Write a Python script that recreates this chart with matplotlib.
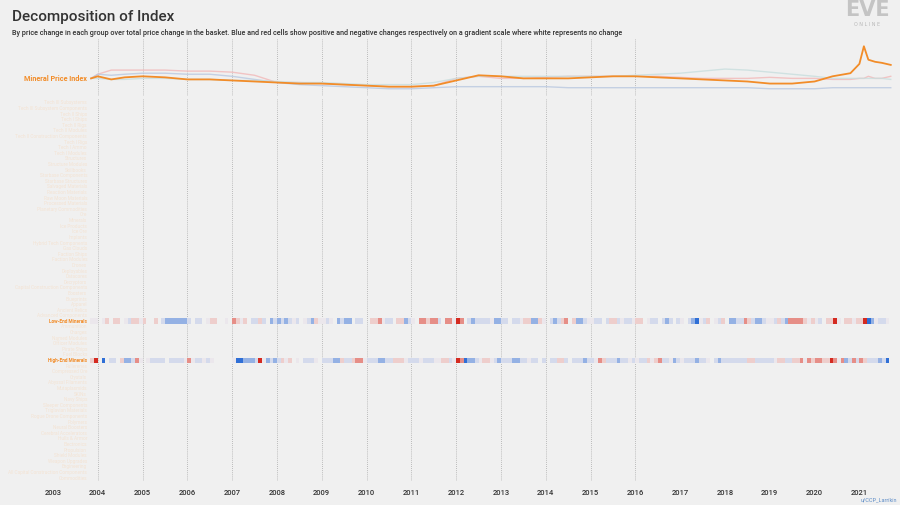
import numpy as np
import matplotlib.pyplot as plt
from matplotlib.colors import LinearSegmentedColormap, Normalize

# ---- data ----
group_labels = [
    "Tech III Subsystems", "Tech III Subsystem Components", "Tech II Ships", "Tech I Ships",
    "Tech II Rigs", "Tech II Modules", "Tech II Construction Components", "Tech I Rigs",
    "Tech I Ammo", "Tech I Modules", "Structures", "Structure Modules", "Skillbooks",
    "Starbase Components", "Starbase Structures", "Salvaged Materials", "Reaction Materials",
    "Raw Moon Materials", "Processed Materials", "Planetary Commodities", "Ore",
    "Minerals", "Ice Products", "Ice Ore", "Implants", "Hybrid Tech Components",
    "Gas Clouds", "Faction Ships", "Faction Modules", "Drones", "Deployables",
    "Datacores", "Decryptors", "Capital Construction Components", "Boosters",
    "Blueprints", "Apparel", "Ancient Relics", "Advanced Components", "Low-End Minerals",
    "Ammunition", "Charges", "Named Modules", "Officer Modules", "Pirate Ships",
    "Fuel Blocks", "High-End Minerals", "Fullerenes", "Compressed Ore", "Crystals",
    "Abyssal Filaments", "Mutaplasmids", "SKINs", "Navy Ships", "Sleeper Components",
    "Triglavian Materials", "Rogue Drone Components", "Polymers", "Neural Boosters",
    "Cerebral Accelerators", "Hulls & Armor", "Electronics", "Propulsion",
    "Shield Modules", "Weapon Upgrades", "Engineering", "All Capital Construction Components",
    "Commodities",
]
highlight_rows = ["Low-End Minerals", "High-End Minerals"]

# monthly cells from Nov 2003 to Aug 2021; blue (+) / red (-), '_' = no data
level_codes = {"A": -3, "B": -2, "b": -1, "0": 0, "r": 1, "R": 2, "X": 3}
low_end_cells = ("00"
                 "_0b_bb_0rbb0" "b__b_rRRRRRR" "r_rr_0bb__0_" "Bb0b_rrbr_Rr"
                 "RrRr0r_0rRb0" "0r0_RrRR_rr_" "_bbB0rr_bbRr" "0_BBbBBr_BB0"
                 "AB_rRrrrr0RR" "rr_rr0bbRRb0" "_rRrbB_bRRr0" "0rr_rbbr0rr0"
                 "bb_0rr_rRr_r" "0_rRX0rb_0rb" "_RRrrBbrRRr0" "0rbrRBBBBb0b"
                 "0r_bbA0_bb0b" "bAXR0rr0")
high_end_cells = ("bA"
                  "_X_rr_bRRrB0" "_0rrrr_rrrr0" "B0rr0r0_____" "0XXRRRrA0RrR"
                  "rb0b_0_rrr0_" "rrrRRbrrbBB0" "rrrRRrrbbb0r" "rr0rrr00bbr0"
                  "ABXRRr0bb0rR" "rrrRRrr0rr_r" "_rrbbr_rrrRr" "r0BbrrrRrr0r"
                  "0rrb0bBrr0Rr" "0rrrRrr0_rRr" "rrrrrrbbrrrr" "r0bbrrbbB0Bb"
                  "BBbbAB0BRrBr" "BbrrrRrX")

# top panel lines (year, level)
index_years = [2003.85, 2004.0, 2004.3, 2004.6, 2005.0, 2005.5, 2006.0, 2006.5, 2007.0,
               2007.5, 2008.0, 2008.5, 2009.0, 2009.5, 2010.0, 2010.5, 2011.0, 2011.5,
               2012.0, 2012.5, 2013.0, 2013.5, 2014.0, 2014.5, 2015.0, 2015.5, 2016.0,
               2016.5, 2017.0, 2017.5, 2018.0, 2018.5, 2019.0, 2019.5, 2020.0, 2020.4,
               2020.8, 2021.0, 2021.1, 2021.2, 2021.35, 2021.5, 2021.7]
index_values = [22, 24, 21, 23, 24, 23, 21, 21, 20, 19, 18, 17, 17, 16, 15, 14, 14, 15,
                20, 25, 24, 22, 22, 22, 23, 24, 24, 23, 22, 21, 20, 19, 17, 17, 19, 24,
                27, 36, 53, 40, 38, 37, 35]
low_line = [22, 26, 30, 30, 30, 30, 29, 29, 28, 25, 18, 18, 17, 16, 15, 14, 14, 15,
            22, 24, 22, 22, 23, 24, 24, 24, 24, 24, 23, 22, 22, 22, 23, 22, 22, 21,
            21, 22, 22, 24, 22, 22, 24]
high_line = [22, 26, 25, 26, 27, 27, 26, 26, 24, 21, 18, 16, 15, 14, 13, 12, 12, 13,
             14, 14, 14, 14, 14, 13, 13, 13, 13, 13, 13, 13, 13, 13, 12, 12, 12, 13,
             13, 13, 13, 13, 13, 13, 13]
other_line = [22, 22, 21, 21, 22, 22, 21, 21, 20, 20, 19, 18, 18, 17, 16, 16, 16, 18,
              22, 24, 24, 24, 24, 24, 24, 24, 25, 26, 27, 29, 31, 30, 28, 26, 24, 22,
              22, 22, 22, 22, 22, 22, 21]
year_ticks = list(range(2003, 2022))

# ---- layout ----
W, H = 900, 506
bg = "#f0f0f0"
orange = "#f28c28"
font = "Roboto"
x0, x1 = 2003.0, 2003 + (893 - 53) / 44.8

fig = plt.figure(figsize=(9, 5.06), dpi=100, facecolor=bg)

def px_axes(left, top, right, bottom):
    return fig.add_axes([left / W, 1 - bottom / H, (right - left) / W, (bottom - top) / H])

fig.text(12 / W, 1 - 17 / H, "Decomposition of Index", fontsize=11, color="#333333",
         family=font, fontweight="medium", va="center")
fig.text(12 / W, 1 - 33 / H,
         "By price change in each group over total price change in the basket. Blue and red cells show "
         "positive and negative changes respectively on a gradient scale where white represents no change",
         fontsize=5.2, color="#333333", family=font, fontweight="medium", va="center")
fig.text(867 / W, 1 - 10 / H, "EVE", fontsize=15, color="#c4c4c4", family="DejaVu Sans",
         fontweight="bold", ha="center", va="center")
fig.text(867 / W, 1 - 25 / H, "O N L I N E", fontsize=3.5, color="#b8b8b8", ha="center", va="center")
fig.text(897 / W, 1 - 500 / H, "u/CCP_Larrikin", fontsize=4, color="#5a8ac6", ha="right",
         va="center", family=font)

# top line panel
ax_top = px_axes(53, 40, 893, 97)
ax_top.set_facecolor(bg)
ax_top.plot(index_years, low_line, color="#f2b8b8", lw=1, alpha=0.8)
ax_top.plot(index_years, high_line, color="#b9c8e0", lw=1, alpha=0.8)
ax_top.plot(index_years, other_line, color="#c8dede", lw=1, alpha=0.8)
ax_top.plot(index_years, index_values, color=orange, lw=1.3)
ax_top.set_xlim(x0, x1)
ax_top.set_ylim(5, 60)
for y in range(2004, 2017):
    ax_top.axvline(y, color="#aaaaaa", lw=0.6, ls=(0, (1, 1.5)), zorder=0)
ax_top.axis("off")
fig.text(87 / W, 1 - 79 / H, "Mineral Price Index", fontsize=5.2, color=orange, family=font,
         fontweight="bold", ha="right", va="center")

# heatmap panel
n_rows = len(group_labels)
ax = px_axes(53, 100, 893, 482)
ax.set_facecolor(bg)
ax.set_xlim(x0, x1)
ax.set_ylim(n_rows - 0.5, -0.5)
for y in range(2004, 2017):
    ax.axvline(y, color="#aaaaaa", lw=0.6, ls=(0, (1, 1.5)), zorder=0)

cmap = LinearSegmentedColormap.from_list("rwb", ["#d42a20", "#f0c2bc", "#ebe7ec", "#c8d3ec", "#2f6fd6"])
norm = Normalize(-3, 3)
start = 2003 + 10 / 12
for name, cells in [("Low-End Minerals", low_end_cells), ("High-End Minerals", high_end_cells)]:
    row = group_labels.index(name)
    for i, c in enumerate(cells):
        if c == "_":
            continue
        ax.bar(start + i / 12, 0.95, width=1 / 12, bottom=row - 0.475, align="edge",
               color=cmap(norm(level_codes[c])), lw=0, zorder=2)

for i, name in enumerate(group_labels):
    hl = name in highlight_rows
    fig.text(87 / W, 1 - (103 + 5.6 * i) / H, name, fontsize=3.4,
             color=orange if hl else "#f4e3d3", family=font,
             fontweight="bold" if hl else "normal", ha="right", va="center")

ax.set_yticks([])
ax.set_xticks(year_ticks)
ax.set_xticklabels([str(y) for y in year_ticks], fontsize=5.5, color="#333333",
                   family=font, fontweight="medium")
ax.tick_params(axis="x", length=0, pad=6)
for s in ax.spines.values():
    s.set_visible(False)

fig.savefig("out.png", dpi=100, facecolor=bg)
